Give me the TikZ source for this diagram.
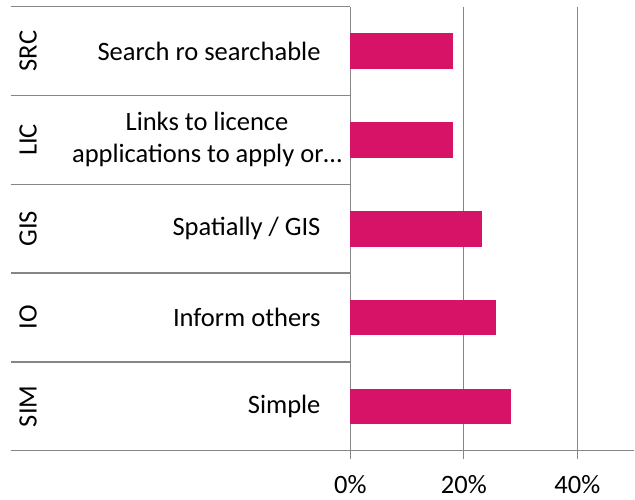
\documentclass[tikz,border=0pt]{standalone}
\usepackage{fontspec}
\setmainfont{Carlito}
\definecolor{barred}{HTML}{D61366}
\definecolor{axisgray}{HTML}{868686}

\begin{document}
\begin{tikzpicture}[x=1pt,y=1pt]

\tikzstyle{bar}=[fill=barred,draw=none]
\tikzstyle{rule}=[draw=axisgray,line width=1.3pt]
\tikzstyle{code}=[rotate=90,font=\fontsize{26.5}{32}\selectfont]
\tikzstyle{lab}=[anchor=east,font=\fontsize{26.5}{32}\selectfont]
\tikzstyle{pct}=[anchor=base,inner sep=0pt,font=\fontsize{26.5}{32}\selectfont]

\useasboundingbox (0,0) rectangle (635,499);

% band lines and axes
\draw[rule] (10.7,492.3) -- (350.3,492.3);
\draw[rule] (10.7,403.5) -- (350.3,403.5);
\draw[rule] (10.7,314.7) -- (350.3,314.7);
\draw[rule] (10.7,225.9) -- (350.3,225.9);
\draw[rule] (10.7,137.1) -- (350.3,137.1);
\draw[rule] (10.7,48.3)  -- (634,48.3);
\draw[rule] (350.3,40) -- (350.3,492.3);
\draw[rule] (463.8,40) -- (463.8,492.3);
\draw[rule] (577.3,40) -- (577.3,492.3);

% bars
\fill[bar] (350.3,430.1) rectangle (452.7,465.7);
\fill[bar] (350.3,341.3) rectangle (452.7,376.9);
\fill[bar] (350.3,252.5) rectangle (481.7,288.1);
\fill[bar] (350.3,163.7) rectangle (496.3,199.3);
\fill[bar] (350.3,74.9)  rectangle (510.7,110.5);

\node[code] (SRC) at (28,447.9) {SRC} ;
\node[code] (LIC) at (28,359.1) {LIC} ;
\node[code] (GIS) at (28,270.3) {GIS} ;
\node[code] (IO)  at (28,181.5) {IO} ;
\node[code] (SIM) at (28,92.7)  {SIM} ;

\node[lab] (src) at (324,447.9) {Search ro searchable} ;
\node[lab,anchor=center,align=center] (lic) at (207,359.1) {Links to licence\\applications to apply or\ldots} ;
\node[lab] (gis) at (324,270.3) {Spatially / GIS} ;
\node[lab] (io)  at (324,181.5) {Inform others} ;
\node[lab] (sim) at (324,92.7)  {Simple} ;

\node[pct] (p0)  at (350.3,6) {0\%} ;
\node[pct] (p20) at (463.8,6) {20\%} ;
\node[pct] (p40) at (577.3,6) {40\%} ;

\end{tikzpicture}
\end{document}
